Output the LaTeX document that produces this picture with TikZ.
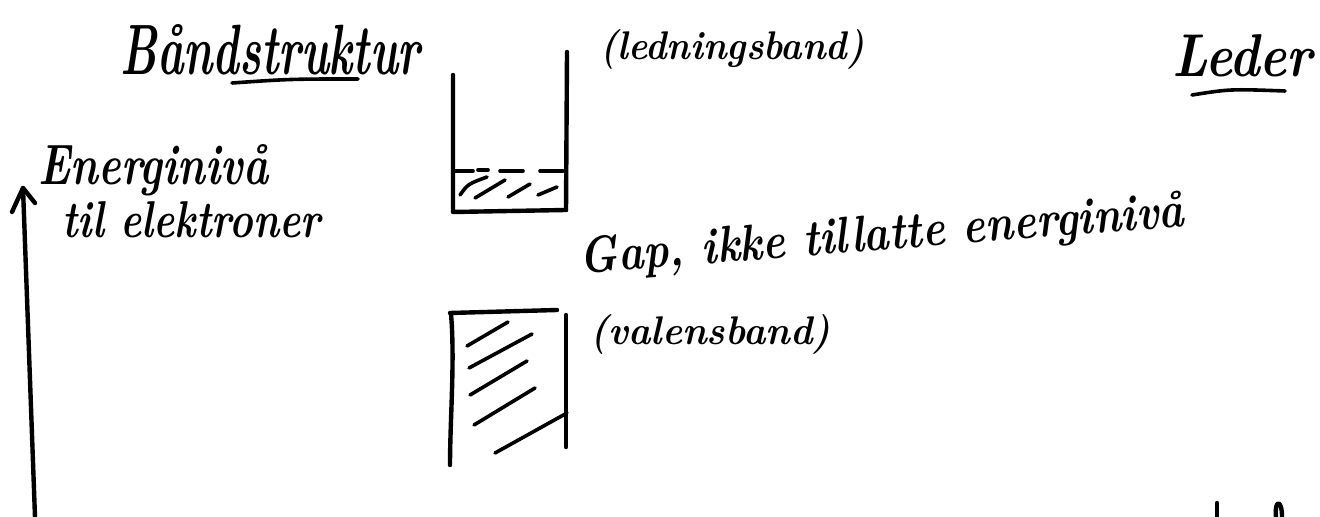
\documentclass[tikz,border=0pt]{standalone}
\begin{document}
\begin{tikzpicture}[x=0.5pt,y=-0.5pt,
  pen/.style={line width=2.2pt,line cap=round,line join=round,black},
  thin pen/.style={line width=1.8pt,line cap=round,black},
  hand/.style={inner sep=0pt,font=\bfseries\itshape,anchor=base west}]
\useasboundingbox (0,0) rectangle (1320,517);
\newcommand\fitwh[3]{\resizebox{#1}{#2}{#3}}
% titles
\node[hand] (title) at (120,75) {\fitwh{150pt}{25pt}{Båndstruktur}};
\draw[thin pen] (232,83) .. controls (290,79) .. (358,79);
\node[hand] (ledn) at (600,60) {\fitwh{132pt}{15pt}{(ledningsband)}};
\node[hand] (leder) at (1172,77) {\fitwh{70pt}{21pt}{Leder}};
\draw[thin pen] (1192,95) .. controls (1230,89) .. (1285,91);
% axis
\node[hand] (en1) at (38,185) {\fitwh{115pt}{20pt}{Energinivå}};
\node[hand] (en2) at (62,238) {\fitwh{129pt}{18pt}{til elektroner}};
\coordinate (abot) at (35,517);
\coordinate (atip) at (23,188);
\draw[pen] (abot) -- (atip);
\draw[pen] (12,212) -- (atip) -- (35,203);
% upper box (ledningsband)
\draw[pen] (453,75) -- (453,212) -- (566,210);
\draw[pen] (567,52) -- (566,210);
\draw[thin pen] (453,171) -- (473,171) (478,170) -- (488,170) (500,171) -- (523,171) (540,171) -- (563,171);
\draw[thin pen] (460,195) .. controls (468,184) .. (487,177);
\draw[thin pen] (475,198) -- (505,180);
\draw[thin pen] (508,197) -- (530,184);
\draw[thin pen] (538,195) -- (557,187);
% gap text
\node[hand,anchor=base,rotate=4.5] (gap) at (883,250) {\fitwh{303pt}{18pt}{Gap, ikke tillatte energinivå}};
% lower box (valensband)
\draw[pen] (450,313) -- (557,310);
\draw[pen] (451,314) .. controls (455,360) and (450,420) .. (450,465);
\draw[pen] (566,315) -- (566,447);
\draw[thin pen] (467,346) -- (508,322);
\draw[thin pen] (469,368) -- (532,334);
\draw[thin pen] (470,395) -- (527,361);
\draw[thin pen] (474,425) -- (535,388);
\draw[thin pen] (495,453) -- (567,413);
\node[hand] (val) at (590,345) {\fitwh{120pt}{15pt}{(valensband)}};
% cut-off fragments at the bottom right
\draw[pen] (1217,503) -- (1217,517);
\draw[pen] (1276,517) .. controls (1274,500) and (1282,498) .. (1282,517);
\end{tikzpicture}
\end{document}
